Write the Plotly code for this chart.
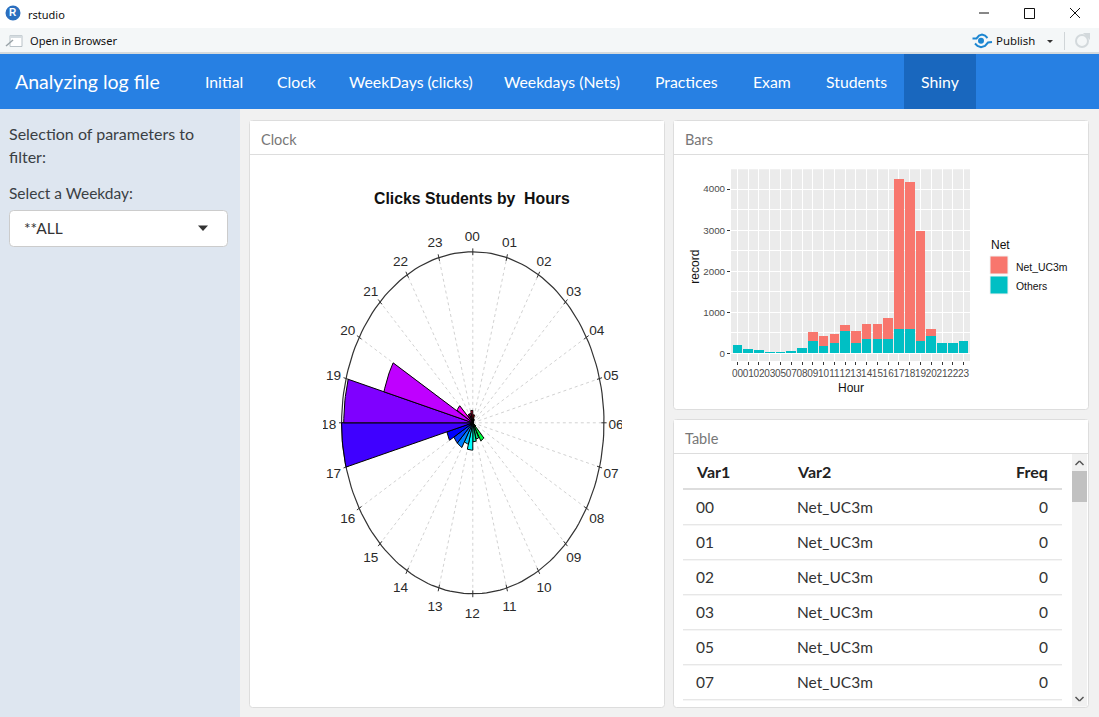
import math, colorsys
import plotly.graph_objects as go

# ---------- data ----------
hours = ["00","01","02","03","05","07","08","09","10","11","12","13","14","15","16","17","18","19","20","21","22","23"]
others = [200,100,70,1,1,40,120,290,180,260,550,260,340,340,340,580,580,310,420,250,250,310]
net_uc3m = [0,0,0,0,0,0,0,230,240,210,130,290,370,370,530,3670,3600,2670,180,0,0,0]
clock_labels = [f"{h:02d}" for h in range(24)]
nav_items = ["Initial","Clock","WeekDays (clicks)","Weekdays (Nets)","Practices","Exam","Students","Shiny"]
table_head = ["Var1","Var2","Freq"]
table_net = "Net_UC3m"
table_rows = 6
y_ticks = [0,1000,2000,3000,4000]

W, H = 1099, 717
FONT = "Lato"
SYS = "Noto Sans"
PLOT = "Liberation Sans"

def px(x): return x / W
def py(y): return 1 - y / H

shapes, notes = [], []

def rect(x0, y0, x1, y1, fill, line=None, lw=1):
    shapes.append(dict(type="rect", xref="paper", yref="paper", x0=px(x0), x1=px(x1), y0=py(y0), y1=py(y1),
                       fillcolor=fill, line=dict(color=line or fill, width=lw if line else 0), layer="below"))

def rrect(x0, y0, x1, y1, r, fill, line):
    p = (f"M{px(x0+r)},{py(y0)} L{px(x1-r)},{py(y0)} Q{px(x1)},{py(y0)} {px(x1)},{py(y0+r)} "
         f"L{px(x1)},{py(y1-r)} Q{px(x1)},{py(y1)} {px(x1-r)},{py(y1)} L{px(x0+r)},{py(y1)} "
         f"Q{px(x0)},{py(y1)} {px(x0)},{py(y1-r)} L{px(x0)},{py(y0+r)} Q{px(x0)},{py(y0)} {px(x0+r)},{py(y0)} Z")
    shapes.append(dict(type="path", xref="paper", yref="paper", path=p, fillcolor=fill,
                       line=dict(color=line, width=1), layer="below"))

def seg(x0, y0, x1, y1, color, lw=1, layer="below"):
    shapes.append(dict(type="line", xref="paper", yref="paper", x0=px(x0), x1=px(x1), y0=py(y0), y1=py(y1),
                       line=dict(color=color, width=lw), layer=layer))

def poly(points, fill, line=None, lw=1, layer="below"):
    p = "M" + " L".join(f"{px(a)},{py(b)}" for a, b in points) + " Z"
    shapes.append(dict(type="path", xref="paper", yref="paper", path=p, fillcolor=fill,
                       line=dict(color=line or fill, width=lw if line else 0), layer=layer))

def curve(points, color, lw):
    p = "M" + " L".join(f"{px(a)},{py(b)}" for a, b in points)
    shapes.append(dict(type="path", xref="paper", yref="paper", path=p, line=dict(color=color, width=lw), layer="below"))

def circ(cx, cy, r, fill, line=None, lw=1):
    shapes.append(dict(type="circle", xref="paper", yref="paper", x0=px(cx-r), x1=px(cx+r), y0=py(cy-r), y1=py(cy+r),
                       fillcolor=fill, line=dict(color=line or fill, width=lw if line else 0), layer="below"))

def txt(x, y, s, size, color, anchor="left", font=FONT, weight=400, angle=0):
    if font == FONT:
        y -= 1
        if anchor == "left":
            x -= 1
    notes.append(dict(xref="paper", yref="paper", x=px(x), y=py(y), text=s, showarrow=False, xanchor=anchor,
                      yanchor="middle", textangle=angle, borderpad=0,
                      font=dict(family=font, size=size, color=color, weight=weight)))

# ---------- window chrome ----------
rect(0, 0, W, 28, "#FFFFFF")
rect(0, 28, W, 52, "#F4F7F8")
rect(0, 52, W, 54, "#D5DADD")
circ(13, 13, 7.5, "#2B6FBF")
txt(13, 13, "R", 10, "#FFFFFF", "center", PLOT, 700)
txt(27, 14, "rstudio", 11, "#111111", font=SYS)
rect(10, 35.5, 22, 46.5, "#FFFFFF", "#B9C2C8")
rect(10, 35.5, 22, 38, "#D5DCE0")
seg(6, 46, 13, 40, "#9AA3A8", 1.5)
txt(28.5, 41, "Open in Browser", 11.1, "#111111", font=SYS)
txt(994.5, 41, "Publish", 11.4, "#111111", font=SYS)
circ(981, 40.7, 3, "#1C86D1")
curve([(972.5, 38.5), (976.5, 38.5), (979, 35.5), (982, 34.5), (985, 35.5), (987.5, 38)], "#1C86D1", 2)
curve([(975, 43.5), (977.5, 46), (981, 47.2), (985, 46), (988, 42.5), (992, 42)], "#1C86D1", 2)
poly([(1047, 40), (1053, 40), (1050, 43)], "#333333")
seg(1064.5, 32, 1064.5, 50, "#D0D5D8")
circ(1082, 41, 6, "#F4F7F8", "#D3D9DC", 2)
poly([(1083, 33), (1090, 33), (1090, 40)], "#D3D9DC")
seg(979, 13, 989, 13, "#111111", 1)
rect(1024.5, 8.5, 1034.5, 18.5, "#FFFFFF", "#111111")
seg(1070, 8, 1080, 18, "#111111", 1)
seg(1070, 18, 1080, 8, "#111111", 1)

# ---------- navbar ----------
rect(0, 54, W, 109, "#2780E3")
rect(904, 54, 976, 109, "#1967BE")
txt(15, 82, "Analyzing log file", 19.5, "#FFFFFF")
nav_centers = [224, 296.5, 410.5, 562, 686.5, 772, 856.5, 940]
for label, cx in zip(nav_items, nav_centers):
    txt(cx, 82, label, 15.8, "#FFFFFF", "center")

# ---------- page / sidebar ----------
rect(0, 109, W, H, "#F1F1F1")
rect(0, 109, 240, H, "#DEE6F0")
txt(9, 134, "Selection of parameters to", 16, "#3A3F44")
txt(9, 158, "filter:", 16, "#3A3F44")
txt(9, 194, "Select a Weekday:", 15.5, "#3A3F44")
rrect(9.5, 210.5, 227.5, 246.5, 4, "#FFFFFF", "#CCCCCC")
txt(24, 229, "**ALL", 15.5, "#333333")
poly([(198, 225.5), (208, 225.5), (203, 231)], "#333333")

# ---------- panels ----------
for (x0, y0, x1, y1, title) in [(250, 121, 664, 707, "Clock"), (674, 121, 1088, 409, "Bars"), (674, 420, 1088, 707, "Table")]:
    rrect(x0 - .5, y0 - .5, x1 + .5, y1 + .5, 3, "#FFFFFF", "#DDDDDD")
    rect(x0, y0, x1, y0 + 33.5, "#FFFFFF")
    seg(x0, y0 + 33.5, x1, y0 + 33.5, "#DDDDDD")
    txt(x0 + 11, y0 + 19, title, 14.5, "#777777")

# ---------- table ----------
TXT = "#333333"
txt(696, 472, table_head[0], 16, "#222222", weight=700)
txt(797, 472, table_head[1], 16, "#222222", weight=700)
txt(1049, 472, table_head[2], 16, "#222222", "right", weight=700)
seg(683, 489, 1062, 489, "#DDDDDD", 2)
for i in range(table_rows):
    yc = 507.5 + 35 * i
    txt(696, yc, hours[i], 15.5, TXT)
    txt(797, yc, table_net, 15.5, TXT)
    txt(1049, yc, str(net_uc3m[i]), 15.5, TXT, "right")
    seg(683, yc + 17.3, 1062, yc + 17.3, "#DDDDDD")
rect(1072, 454, 1087, 706.5, "#F1F1F1")
rect(1072, 471, 1087, 502, "#C1C1C1")
seg(1075.5, 465, 1079.5, 461, "#505050", 1.5)
seg(1079.5, 461, 1083.5, 465, "#505050", 1.5)
seg(1075.5, 697, 1079.5, 701, "#505050", 1.5)
seg(1079.5, 701, 1083.5, 697, "#505050", 1.5)

# ---------- clock panel ----------
txt(472, 198.5, "Clicks Students by\u00a0 Hours", 15.8, "#111111", "center", PLOT, 700)
CX, CY, RX, RY = 472.8, 422.8, 131.2, 171.0
RMAX = 4250
CL, CR, CT, CB = 323, 622, 225, 622

fig = go.Figure()
def pol(r, deg):
    a = math.radians(deg)
    return r * math.sin(a), r * math.cos(a)

ring = [pol(RMAX, d) for d in range(0, 361, 2)]
for h in range(24):
    x, y = pol(RMAX, h * 15)
    fig.add_trace(go.Scatter(x=[0, x], y=[0, y], mode="lines", line=dict(color="#D2D2D2", width=1, dash="dot"),
                             hoverinfo="skip", showlegend=False))
fig.add_trace(go.Scatter(x=[p[0] for p in ring], y=[p[1] for p in ring], mode="lines",
                         line=dict(color="#333333", width=1.2), hoverinfo="skip", showlegend=False))
for h in range(24):
    a, b = pol(RMAX * 0.98, h * 15), pol(RMAX * 1.02, h * 15)
    fig.add_trace(go.Scatter(x=[a[0], b[0]], y=[a[1], b[1]], mode="lines", line=dict(color="#333333", width=1),
                             hoverinfo="skip", showlegend=False))
for lab, o, n in zip(hours, others, net_uc3m):
    h = int(lab)
    total = o + n
    pts = [(0, 0)] + [pol(total, h * 15 + k * 1.5) for k in range(11)] + [(0, 0)]
    r, g, b = colorsys.hsv_to_rgb(h / 24, 1, 1)
    fig.add_trace(go.Scatter(x=[p[0] for p in pts], y=[p[1] for p in pts], mode="lines", fill="toself",
                             fillcolor=f"rgb({int(r*255)},{int(g*255)},{int(b*255)})",
                             line=dict(color="#000000", width=1), name=lab, showlegend=False))
lab_x = [pol(RMAX * 1.095, h * 15)[0] - 0.5 / RX * RMAX for h in range(24)]
lab_y = [pol(RMAX * 1.102, h * 15)[1] - 3 / RY * RMAX for h in range(24)]
fig.add_trace(go.Scatter(x=lab_x, y=lab_y, mode="text", text=clock_labels,
                         textposition="middle center", textfont=dict(family=PLOT, size=13.6, color="#2A2A2A"),
                         hoverinfo="skip", showlegend=False))

# ---------- stacked bars ----------
fig.add_trace(go.Bar(x=hours, y=others, name="Others", marker=dict(color="#00BFC4", line=dict(width=0)),
                     xaxis="x2", yaxis="y2", showlegend=False))
fig.add_trace(go.Bar(x=hours, y=net_uc3m, name="Net_UC3m", marker=dict(color="#F8766D", line=dict(width=0)),
                     xaxis="x2", yaxis="y2", showlegend=False))

rect(731, 169.3, 970, 361, "#EBEBEB")
txt(851, 388, "Hour", 12, "#111111", "center", PLOT)
txt(695, 266.7, "record", 12, "#111111", "center", PLOT, angle=-90)
txt(989.5, 245, "Net", 12, "#111111", font=PLOT)
rect(990, 256, 1008, 274, "#F8766D", "#F2F2F2")
rect(990, 276, 1008, 294, "#00BFC4", "#F2F2F2")
txt(1014.5, 267, "Net_UC3m", 10.4, "#111111", font=PLOT)
txt(1014.5, 286.7, "Others", 10.4, "#111111", font=PLOT)

per_px = 4000 / 164.3
fig.update_layout(
    width=W, height=H, margin=dict(l=0, r=0, t=0, b=0), paper_bgcolor="#FFFFFF", plot_bgcolor="rgba(0,0,0,0)",
    barmode="stack", bargap=0.1, showlegend=False, shapes=shapes, annotations=notes,
    xaxis=dict(domain=[px(CL), px(CR)], range=[(CL - CX) / RX * RMAX, (CR - CX) / RX * RMAX], visible=False),
    yaxis=dict(domain=[py(CB), py(CT)], range=[(CY - CB) / RY * RMAX, (CY - CT) / RY * RMAX], visible=False),
    xaxis2=dict(domain=[px(731), px(970)], anchor="y2", type="category", range=[-0.6, 21.6], tickmode="array",
                tickvals=hours, ticktext=hours, tickangle=0, ticks="outside", ticklen=3, tickcolor="#333333",
                tickwidth=1, showgrid=True, gridcolor="#FFFFFF", gridwidth=1, zeroline=False, showline=False,
                tickfont=dict(family=PLOT, size=10, color="#4D4D4D")),
    yaxis2=dict(domain=[py(361), py(169.3)], anchor="x2", range=[-(361 - 353.3) * per_px, (353.3 - 169.3) * per_px],
                tickmode="array", tickvals=y_ticks, ticks="outside", ticklen=3, tickcolor="#333333", tickwidth=1,
                showgrid=True, gridcolor="#FFFFFF", gridwidth=1, zeroline=False, showline=False,
                minor=dict(dtick=500, showgrid=True, gridcolor="#FFFFFF", gridwidth=0.5),
                tickfont=dict(family=PLOT, size=9.8, color="#4D4D4D")),
)
fig.write_html("out.html", config=dict(displayModeBar=False),
               post_script="document.body.style.margin='0';document.documentElement.style.overflow='hidden';")
